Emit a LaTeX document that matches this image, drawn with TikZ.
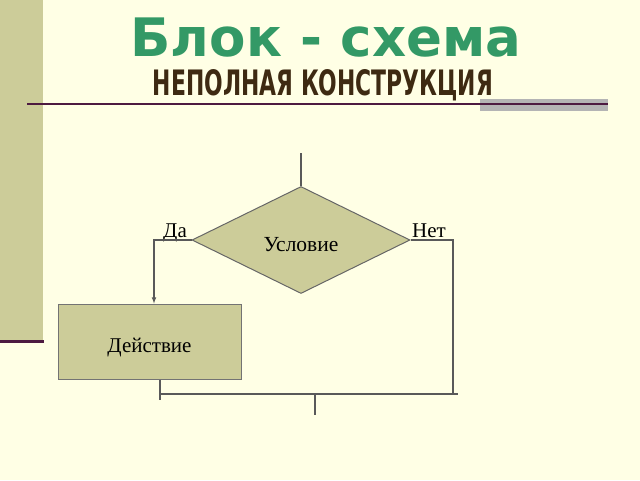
\documentclass[tikz,border=0pt]{standalone}
\usepackage{fontspec}
\setmainfont{Liberation Serif}
\newfontfamily\titlefont{DejaVu Sans}
\usetikzlibrary{shapes.geometric, arrows}
\definecolor{bgcream}{HTML}{FFFFE5}
\definecolor{khaki}{HTML}{CCCC99}
\definecolor{titlegreen}{HTML}{339966}
\definecolor{rulepurple}{HTML}{4D1A40}
\definecolor{barshade}{HTML}{B4B4B4}
\definecolor{subbrown}{HTML}{3E2A12}
\tikzstyle{decision} = [diamond, aspect=2.04, minimum width=218pt, minimum height=107pt, inner sep=0pt, fill=khaki, draw=black!60, line width=1pt, text centered, text height=22pt, text depth=0pt, font=\fontsize{21.5}{21.5}\selectfont]
\tikzstyle{action} = [rectangle, minimum width=183pt, minimum height=75pt, fill=khaki, draw=black!55, line width=1pt, text centered, text height=22pt, text depth=0pt, font=\fontsize{21}{21}\selectfont]
\tikzstyle{flow} = [draw=black!65, line width=1.1pt]

\begin{document}
\begin{tikzpicture}[x=1pt, y=-1pt]
        \tikzstyle{answer} = [inner sep=0pt, anchor=base, font=\fontsize{21}{21}\selectfont]

        % slide background and decoration
        \fill[bgcream] (0,0) rectangle (640,480);
        \useasboundingbox (0,0) rectangle (640,480);
        \fill[khaki] (0,0) rectangle (43,341);
        \draw[rulepurple, line width=3pt] (0,341) -- (44,341);
        \fill[barshade] (480,99) rectangle (608,111);
        \draw[rulepurple, line width=1.2pt] (27,104) -- (608,104);

        \node[text=titlegreen, font=\titlefont\bfseries\fontsize{53}{53}\selectfont] (title) at (326,38) {Блок - схема};
        \node[text=subbrown, inner sep=0pt] (subtitle) at (323,85) {\resizebox{340pt}{26pt}{\titlefont\bfseries НЕПОЛНАЯ КОНСТРУКЦИЯ}};

        % flowchart
        \node[decision] (cond) at (301,240) {Условие};
        \node[action] (act) at (149.5,341.5) {Действие};
        \node[answer] (yes) at (175,237.5) {Да};
        \node[answer] (no) at (429,237.5) {Нет};

        \coordinate (entry) at (301,153);
        \coordinate (rcorner) at (453,394);
        \coordinate (lcorner) at (160,394);
        \coordinate (rend) at (458,394);
        \coordinate (join) at (315,394);
        \coordinate (exit) at (315,415);

        \draw[flow] (entry) -- (cond.north);
        \draw[flow, -latex] (cond.west) -| ([xshift=4.5pt]act.north);
        \draw[flow] (cond.east) -| (rcorner);
        \draw[flow] ([xshift=10.5pt]act.south) -- ++(0,20);
        \draw[flow] (lcorner) -- (rend);
        \draw[flow] (join) -- (exit);

    \end{tikzpicture}
\end{document}
